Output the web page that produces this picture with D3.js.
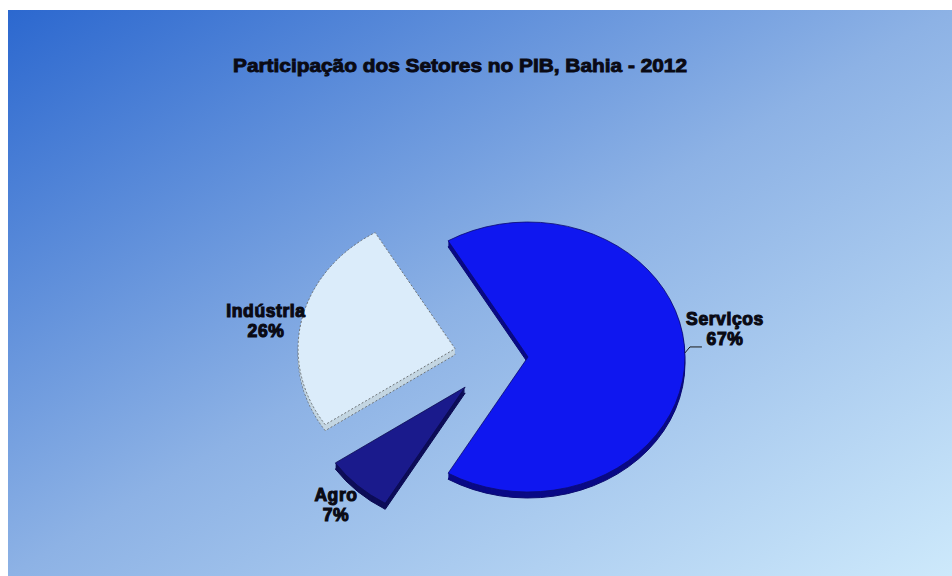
<!DOCTYPE html>
<html>
<head>
<meta charset="utf-8">
<script src="https://cdn.jsdelivr.net/npm/d3@7"></script>
<style>
  html, body { margin: 0; padding: 0; background: #ffffff; }
  svg { display: block; }
</style>
</head>
<body>
<svg id="chart" width="952" height="576"></svg>
<script>
// Participação dos setores no PIB da Bahia, 2012 (%)
const sectors = ["Serviços", "Agro", "Indústria"];
const shares = [67, 7, 26];
const shareLabels = ["67%", "7%", "26%"];
const chartTitle = "Participação dos Setores no PIB, Bahia - 2012";

// styling for each slice: top face, side face, outline
const topColors = ["#0f17f0", "#1a1a8c", "#dbecfa"];
const sideColors = ["#0a0a86", "#0d0d58", "#c4d6e2"];
const edgeColors = ["#0b0b70", "#0b0b50", "#6e7478"];
const explode = [30, 48, 44];

const W = 952, H = 576;
const svg = d3.select("#chart");
const defs = svg.append("defs");

// diagonal backdrop gradient
const grad = defs.append("linearGradient")
  .attr("id", "bg").attr("x1", 0).attr("y1", 0).attr("x2", 1).attr("y2", 1);
grad.append("stop").attr("offset", 0).attr("stop-color", "#2c68cf");
grad.append("stop").attr("offset", 0.5).attr("stop-color", "#8db2e5");
grad.append("stop").attr("offset", 1).attr("stop-color", "#cde9fb");

svg.append("rect").attr("x", 8).attr("y", 10)
  .attr("width", W - 8).attr("height", H - 10)
  .attr("fill", "url(#bg)");

// title
svg.append("text")
  .attr("x", 460).attr("y", 72)
  .attr("text-anchor", "middle")
  .attr("font-family", "'Liberation Sans', Arial, sans-serif")
  .attr("font-weight", "bold")
  .attr("font-size", 19)
  .attr("fill", "#0a0a14")
  .attr("stroke", "#0a0a14").attr("stroke-width", 0.9)
  .attr("textLength", 454).attr("lengthAdjust", "spacingAndGlyphs")
  .text(chartTitle);

// tilted pie geometry
const cx = 498, cy = 357;
const rx = 157, ry = 135, k = ry / rx;
const depth = 6;

const total = d3.sum(shares);
const pie = d3.pie().sort(null).value(d => d)
  .startAngle(Math.PI / 2 - shares[0] / total * Math.PI);
pie.endAngle(pie.startAngle()() + 2 * Math.PI);
const arcs = pie(shares);

const arc = d3.arc().innerRadius(0).outerRadius(rx);

const slices = svg.append("g");
// draw back-to-front: Indústria, Serviços, Agro
[2, 0, 1].forEach(i => {
  const a = arcs[i];
  const mid = (a.startAngle + a.endAngle) / 2;
  const ox = cx + explode[i] * Math.sin(mid);
  const oy = cy - explode[i] * Math.cos(mid) * k;
  const g = slices.append("g").attr("class", "slice");
  // extruded side
  for (let d = depth; d >= 1; d--) {
    g.append("path")
      .attr("d", arc(a))
      .attr("transform", `translate(${ox},${oy + d}) scale(1,${k})`)
      .attr("fill", sideColors[i])
      .attr("stroke", d === depth ? edgeColors[i] : "none")
      .attr("stroke-width", 1)
      .attr("stroke-dasharray", i === 2 ? "2,2" : null)
      .attr("vector-effect", "non-scaling-stroke");
  }
  // top face
  g.append("path")
    .attr("d", arc(a))
    .attr("transform", `translate(${ox},${oy}) scale(1,${k})`)
    .attr("fill", topColors[i])
    .attr("stroke", edgeColors[i])
    .attr("stroke-width", i === 2 ? 1 : 0.8)
    .attr("stroke-dasharray", i === 2 ? "2,2" : null)
    .attr("vector-effect", "non-scaling-stroke");
  a.ox = ox; a.oy = oy;
});

// data labels
const labelPos = [[725, 325], [336, 501], [266, 317]];
const labelFont = "'Liberation Sans', Arial, sans-serif";
arcs.forEach((a, i) => {
  const [lx, ly] = labelPos[i];
  const t = svg.append("text")
    .attr("x", lx).attr("y", ly)
    .attr("text-anchor", "middle")
    .attr("font-family", labelFont)
    .attr("font-weight", "bold")
    .attr("font-size", 17.5)
    .attr("letter-spacing", 0.6)
    .attr("fill", "#0a0a14")
    .attr("stroke", "#0a0a14").attr("stroke-width", 1.1);
  t.append("tspan").attr("x", lx).text(sectors[i]);
  t.append("tspan").attr("x", lx).attr("dy", 20).text(shareLabels[i]);
});

// leader line for Serviços
{
  const a = arcs[0];
  const ang = Math.PI / 2 - 0.03;
  const px = a.ox + rx * Math.sin(ang);
  const py = a.oy - ry * Math.cos(ang);
  svg.append("path")
    .attr("d", d3.line()([[px, py], [px + 5, py - 6], [px + 17, py - 6]]))
    .attr("fill", "none").attr("stroke", "#1a1a1a").attr("stroke-width", 1);
}
</script>
</body>
</html>
